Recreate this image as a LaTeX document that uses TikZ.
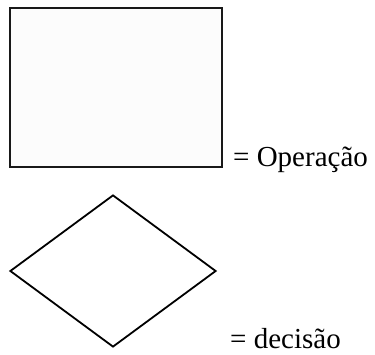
\documentclass[tikz,border=0pt]{standalone}
\usepackage{fontspec}
\setmainfont{Liberation Serif}
\usetikzlibrary{shapes.geometric}
\begin{document}
\begin{tikzpicture}[x=1pt,y=1pt,
  opbox/.style={draw=black!90,line width=2pt,fill=black!1,minimum width=212pt,minimum height=159pt,inner sep=0pt},
  decbox/.style={draw=black,line width=1.8pt,diamond,aspect=1.355,minimum width=206pt,minimum height=152pt,inner sep=0pt},
  legend/.style={anchor=base west,inner sep=0pt,font=\fontsize{29}{34}\selectfont}]
\useasboundingbox (0,0) rectangle (375,354);
\node[opbox] (op) at (116,266.5) {};
\node[legend] (optext) at (233,187) {= Operação};
\node[decbox] (dec) at (113,83) {};
\node[legend] (dectext) at (230,6) {= decisão};
\end{tikzpicture}
\end{document}
